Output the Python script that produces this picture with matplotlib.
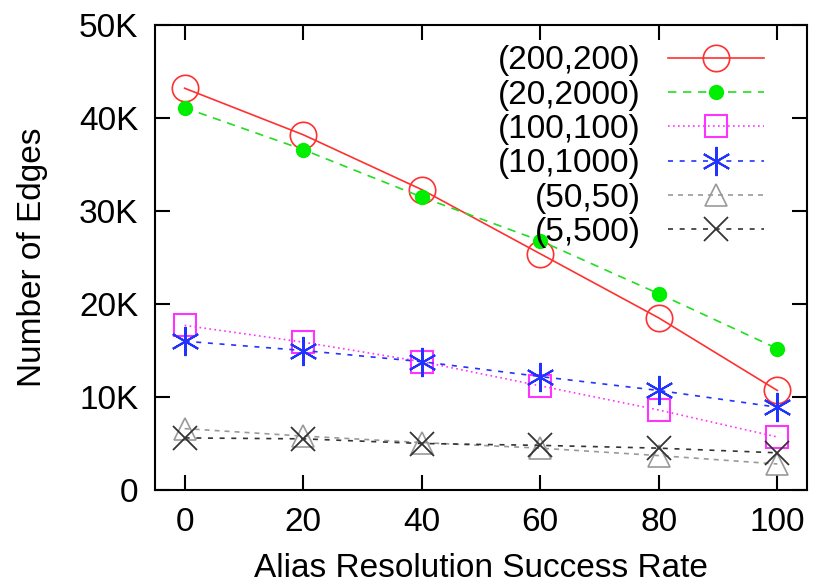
import matplotlib.pyplot as plt
from matplotlib.ticker import FuncFormatter

plt.rcParams['font.family'] = ['Liberation Sans', 'DejaVu Sans']

rates = [0, 20, 40, 60, 80, 100]
labels = ["(200,200)", "(20,2000)", "(100,100)", "(10,1000)", "(50,50)", "(5,500)"]
e_200_200 = [43200, 38200, 32300, 25400, 18500, 10700]
e_20_2000 = [41100, 36600, 31500, 26800, 21100, 15200]
e_100_100 = [17700, 15900, 13800, 11200, 8600, 5700]
e_10_1000 = [16000, 15000, 13800, 12200, 10700, 8900]
e_50_50 = [6600, 5800, 5100, 4500, 3700, 2800]
e_5_500 = [5600, 5500, 5000, 4800, 4500, 4000]

series = [e_200_200, e_20_2000, e_100_100, e_10_1000, e_50_50, e_5_500]
styles = [
    dict(color="#ff3030", ls="-", marker="o", ms=19, mfc="none", mew=1.2),
    dict(color="#22dd22", ls=(0, (5, 4)), marker="o", ms=10, mfc="#00ee00", mec="#00ee00"),
    dict(color="#ff33ff", ls=(0, (1, 2)), marker="s", ms=16, mfc="none", mew=1.5),
    dict(color="#2233ff", ls=(0, (3, 4)), marker=(6, 2, 0), ms=21, mew=1.5),
    dict(color="#999999", ls=(0, (3, 3)), marker="^", ms=16, mfc="none", mew=1.2),
    dict(color="#333333", ls=(0, (3, 4)), marker="x", ms=17, mew=1.3),
]

fig = plt.figure(figsize=(8.21, 5.85), dpi=100)
ax = fig.add_axes([155 / 821, 1 - 490 / 585, 652 / 821, 465 / 585])

for vals, lab, st in zip(series, labels, styles):
    ax.plot(rates, vals, lw=1.2, label=lab, **st)

ax.set_xlim(-5, 105)
ax.set_ylim(0, 50000)
ax.set_xticks(rates)
ax.set_yticks(range(0, 50001, 10000))
ax.yaxis.set_major_formatter(FuncFormatter(lambda v, p: "0" if v == 0 else "%dK" % (v / 1000)))
ax.tick_params(direction="in", length=11, width=1.5, top=True, right=True,
               labelsize=24, pad=12)
for s in ax.spines.values():
    s.set_linewidth(1.5)
ax.set_xlabel("Alias Resolution Success Rate", fontsize=24, labelpad=11)
ax.set_ylabel("Number of Edges", fontsize=24, labelpad=22)

leg = ax.legend(loc="upper right", frameon=False, markerfirst=False, fontsize=24,
                handlelength=2.9, labelspacing=0.1, borderaxespad=0.0,
                handletextpad=0.8, bbox_to_anchor=(0.955, 0.985))

fig.savefig("out.png", dpi=100)
